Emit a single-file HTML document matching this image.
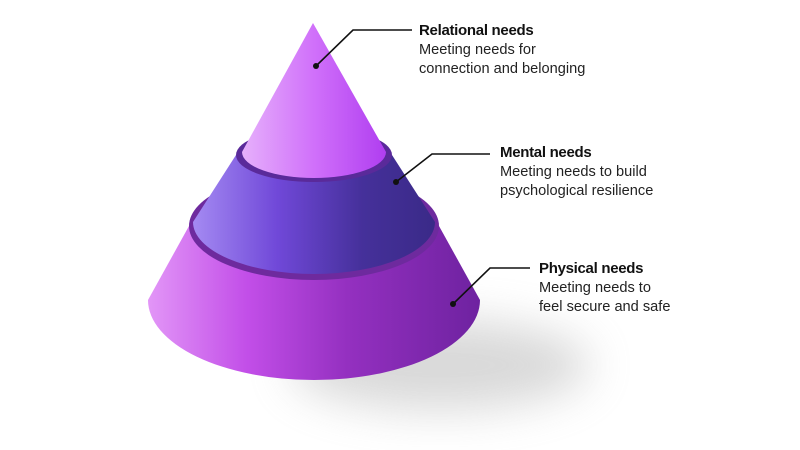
<!DOCTYPE html>
<html><head><meta charset="utf-8"><style>
html,body{margin:0;padding:0;background:#fff;}
body{width:800px;height:450px;overflow:hidden;position:relative;font-family:"Liberation Sans",sans-serif;}
.t{position:absolute;font-size:14.6px;color:#222;line-height:19px;}
.t b{font-size:15px;color:#111;letter-spacing:-0.3px;}
</style></head><body>
<svg width="800" height="450" style="position:absolute;left:0;top:0">
<defs>
<filter id="bl" x="-50%" y="-50%" width="200%" height="200%"><feGaussianBlur stdDeviation="22"/></filter>
<linearGradient id="g1" x1="0" x2="1">
<stop offset="0" stop-color="#e296f7"/><stop offset="0.3" stop-color="#c24ee8"/><stop offset="0.6" stop-color="#9430c0"/><stop offset="1" stop-color="#6e22a0"/></linearGradient>
<linearGradient id="g2" x1="0" x2="1">
<stop offset="0" stop-color="#a48af2"/><stop offset="0.35" stop-color="#7048d8"/><stop offset="0.7" stop-color="#45309a"/><stop offset="1" stop-color="#3a2a88"/></linearGradient>
<linearGradient id="g3" x1="0" x2="1">
<stop offset="0" stop-color="#e6b0fb"/><stop offset="0.5" stop-color="#d070fa"/><stop offset="1" stop-color="#b03ef0"/></linearGradient>
</defs>
<ellipse cx="440" cy="365" rx="150" ry="45" fill="#aaa" opacity="0.45" filter="url(#bl)"/>
<!-- bottom tier -->
<path d="M189 226 L148 300 A166 80 0 0 0 480 300 L439 226 Z" fill="url(#g1)"/>
<ellipse cx="314" cy="226" rx="125" ry="54" fill="#6e2a9e"/>
<!-- mental tier -->
<path d="M236 155 L193 222 A121 52 0 0 0 435 222 L392 155 Z" fill="url(#g2)"/>
<ellipse cx="314" cy="155" rx="78" ry="27" fill="#5a2a9a"/>
<!-- top cone -->
<path d="M313 23 L242 152 A72 26 0 0 0 386 152 Z" fill="url(#g3)"/>
<!-- connectors -->
<g stroke="#111" stroke-width="1.6" fill="none">
<polyline points="316,66 353,30 412,30"/>
<polyline points="396,182 432,154 490,154"/>
<polyline points="453,304 490,268 530,268"/>
</g>
<circle cx="316" cy="66" r="3" fill="#111"/>
<circle cx="396" cy="182" r="3" fill="#111"/>
<circle cx="453" cy="304" r="3" fill="#111"/>
</svg>
<div class="t" style="left:419px;top:21px"><b>Relational needs</b><br>Meeting needs for<br>connection and belonging</div>
<div class="t" style="left:500px;top:143px"><b>Mental needs</b><br>Meeting needs to build<br>psychological resilience</div>
<div class="t" style="left:539px;top:259px"><b>Physical needs</b><br>Meeting needs to<br>feel secure and safe</div>
</body></html>
